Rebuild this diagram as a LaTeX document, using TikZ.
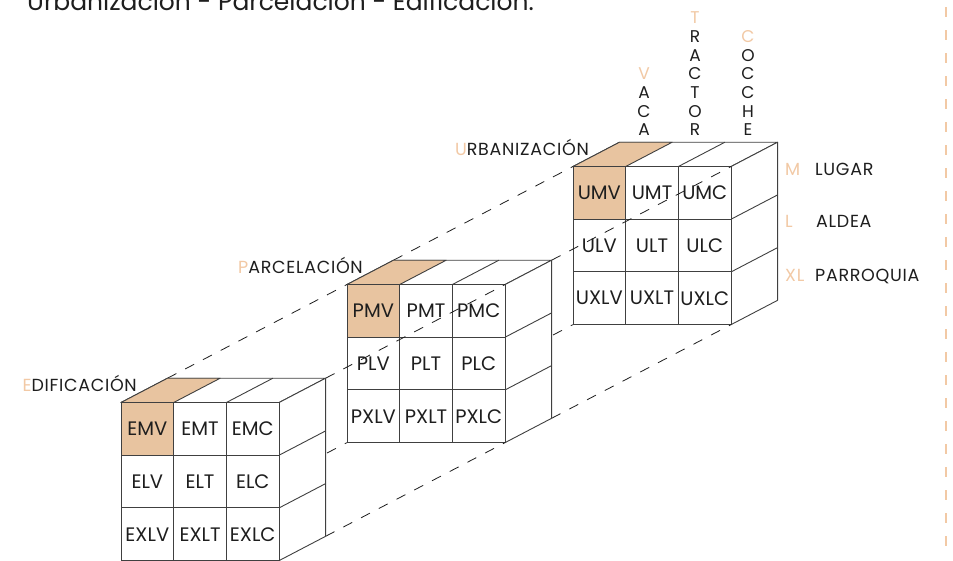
\documentclass[tikz,border=0pt]{standalone}
\usepackage{fontspec}
\setmainfont{Poppins}
\newfontfamily\labelfont{Poppins}[LetterSpace=4]
\usetikzlibrary{calc}
\definecolor{accent}{HTML}{F2C9A5}
\definecolor{shade}{HTML}{E8C4A0}
\definecolor{ink}{HTML}{1E1E1E}
\tikzset{
  cubeline/.style={draw=ink!85, line width=0.9pt, line join=round},
  cellbox/.style={draw=ink!85, line width=0.9pt, fill=white, minimum width=52.7pt, minimum height=52.7pt, inner sep=0pt, font=\fontsize{19.5}{19.5}\selectfont, text=ink},
  rail/.style={draw=ink, line width=0.8pt, dash pattern=on 10pt off 10pt},
  slabtitle/.style={font=\labelfont\fontsize{17.5}{17.5}\selectfont, text=ink, inner sep=0pt, anchor=base east},
  vlabel/.style={anchor=south, align=center, inner sep=0pt, font=\fontsize{17}{18.7}\selectfont, text=ink, text depth=0pt},
  rlabel/.style={anchor=base west, inner sep=0pt, font=\labelfont\fontsize{17.5}{17.5}\selectfont, text=ink},
  header/.style={anchor=base west, inner sep=0pt, font=\fontsize{25}{25}\selectfont, text=ink},
  guide/.style={draw=accent, line width=1.3pt, dash pattern=on 10pt off 13pt}
}
\newcommand{\slabcorners}[1]{%
  \coordinate (#1-ftl) at (0,0);
  \coordinate (#1-ftr) at (158.1,0);
  \coordinate (#1-fbr) at (158.1,158.1);
  \coordinate (#1-fbl) at (0,158.1);
  \coordinate (#1-btl) at (46.5,-24.3);
  \coordinate (#1-btr) at (204.6,-24.3);
  \coordinate (#1-bbr) at (204.6,133.8);
  \coordinate (#1-bbl) at (46.5,133.8);
}
\newcommand{\drawslab}[2]{%
  \path[cubeline, fill=white] (#1-ftl) -- (#1-ftr) -- (#1-btr) -- (#1-btl) -- cycle;
  \path[cubeline, fill=shade] (#1-ftl) -- (52.7,0) -- (99.2,-24.3) -- (#1-btl) -- cycle;
  \draw[cubeline] (105.4,0) -- ++(46.5,-24.3);
  \path[cubeline, fill=white] (#1-ftr) -- (#1-btr) -- (#1-bbr) -- (#1-fbr) -- cycle;
  \draw[cubeline] (158.1,52.7) -- ++(46.5,-24.3) (158.1,105.4) -- ++(46.5,-24.3);
  \node[cellbox, fill=shade] (#1-MV) at (26.35,26.35) {#1MV};
  \node[cellbox] (#1-MT) at (79.05,26.35) {#1MT};
  \node[cellbox] (#1-MC) at (131.75,26.35) {#1MC};
  \node[cellbox] (#1-LV) at (26.35,79.05) {#1LV};
  \node[cellbox] (#1-LT) at (79.05,79.05) {#1LT};
  \node[cellbox] (#1-LC) at (131.75,79.05) {#1LC};
  \node[cellbox] (#1-XLV) at (26.35,131.75) {#1XLV};
  \node[cellbox] (#1-XLT) at (79.05,131.75) {#1XLT};
  \node[cellbox] (#1-XLC) at (131.75,131.75) {#1XLC};
  \node[slabtitle] (#1-title) at (16,-11) {\textcolor{accent}{#1}#2};
}
\begin{document}
\begin{tikzpicture}[x=1pt,y=-1pt]
\useasboundingbox (0,0) rectangle (953,560);
\fill[white] (0,0) rectangle (953,560);

% corner coordinates of the three slabs
\begin{scope}[shift={(573,166.5)}]\slabcorners{U}\end{scope}
\begin{scope}[shift={(347,284.5)}]\slabcorners{P}\end{scope}
\begin{scope}[shift={(121,402.5)}]\slabcorners{E}\end{scope}

\node[header] (head) at (27,10) {Urbanización - Parcelación - Edificación.};

% back slab
\begin{scope}[shift={(573,166.5)}]
\drawslab{U}{RBANIZACIÓN}
\end{scope}
\draw[rail] (P-btl) -- (U-ftl) (P-btr) -- (U-ftr) (P-bbr) -- (U-fbr) (P-bbl) -- (U-fbl);

% middle slab
\begin{scope}[shift={(347,284.5)}]
\drawslab{P}{ARCELACIÓN}
\end{scope}
\draw[rail] (E-btl) -- (P-ftl) (E-btr) -- (P-ftr) (E-bbr) -- (P-fbr) (E-bbl) -- (P-fbl);

% front slab
\begin{scope}[shift={(121,402.5)}]
\drawslab{E}{DIFICACIÓN}
\end{scope}

% column labels
\node[vlabel] (vaca) at (644,136) {\textcolor{accent}{V}\\A\\C\\A};
\node[vlabel] (tractor) at (695,136) {\textcolor{accent}{T}\\R\\A\\C\\T\\O\\R};
\node[vlabel] (cocche) at (748,136) {\textcolor{accent}{C}\\O\\C\\C\\H\\E};

% row labels
\node[rlabel, text=accent] (mkey) at (785,175) {M};
\node[rlabel] (lugar) at (815,175) {LUGAR};
\node[rlabel, text=accent] (lkey) at (785,227) {L};
\node[rlabel] (aldea) at (816,227) {ALDEA};
\node[rlabel, text=accent] (xlkey) at (785,281) {XL};
\node[rlabel] (parroquia) at (815,281) {PARROQUIA};

% guide line
\coordinate (gtop) at (946,7);
\coordinate (gbot) at (946,546);
\draw[guide] (gtop) -- (gbot);
\end{tikzpicture}
\end{document}
